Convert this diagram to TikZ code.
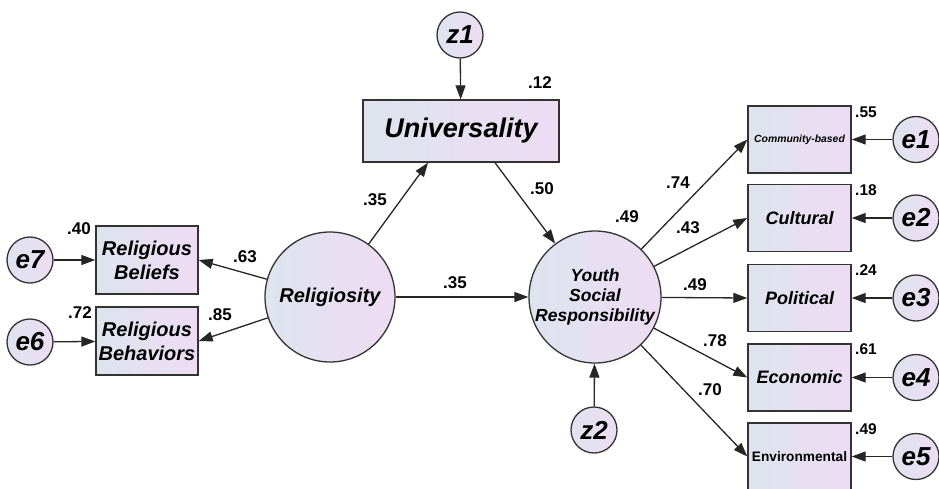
\documentclass[tikz,border=0pt]{standalone}
\usepackage{fontspec}
\setmainfont{Liberation Sans}
\usetikzlibrary{arrows.meta,shapes.geometric}
\definecolor{fillL}{HTML}{DEE4EE}
\definecolor{fillR}{HTML}{EEDCF4}
\definecolor{edgeC}{HTML}{333333}
\begin{document}
\begin{tikzpicture}[x=1pt,y=-1pt,
  obsbox/.style={draw=edgeC, line width=1.4pt, left color=fillL, right color=fillR,
    minimum width=103pt, minimum height=67pt, inner sep=0pt, align=center,
    font=\fontsize{18}{22}\selectfont\bfseries\itshape},
  latent/.style={circle, draw=edgeC, line width=1.3pt, left color=fillL, right color=fillR,
    inner sep=0pt, align=center},
  errc/.style={circle, draw=edgeC, line width=1.3pt, left color=fillL, right color=fillR,
    minimum size=46pt, inner sep=0pt, font=\fontsize{26}{30}\selectfont\bfseries\itshape},
  lbl/.style={font=\fontsize{17}{19}\selectfont\bfseries, inner sep=0pt},
  rlbl/.style={font=\fontsize{15.5}{17}\selectfont\bfseries, inner sep=0pt},
  arr/.style={-{Triangle[length=14pt,width=10pt]}, line width=1.3pt, draw=black!85}]

\useasboundingbox (0,0) rectangle (939,488);

% latent variables
\node[latent, minimum size=130pt, font=\fontsize{20}{24}\selectfont\bfseries\itshape] (rel) at (330,297) {Religiosity};
\node[latent, minimum size=132pt, font=\fontsize{17.5}{20}\selectfont\bfseries\itshape] (ysr) at (595,297) {Youth\\Social\\Responsibility};

% mediator
\node[draw=edgeC, line width=1.4pt, left color=fillL, right color=fillR,
  minimum width=196pt, minimum height=62pt, inner sep=0pt,
  font=\fontsize{27}{30}\selectfont\bfseries\itshape] (univ) at (461,131) {Universality};

% disturbances
\node[errc] (z1) at (460,35) {z1};
\node[errc] (z2) at (594,430) {z2};

% left indicators
\node[obsbox, minimum width=102pt, minimum height=68pt, font=\fontsize{20}{24}\selectfont\bfseries\itshape] (rb) at (147,260) {Religious\\Beliefs};
\node[obsbox, minimum width=102pt, minimum height=68pt, font=\fontsize{20}{24}\selectfont\bfseries\itshape] (rbh) at (147,341) {Religious\\Behaviors};
\node[errc] (e7) at (30,260) {e7};
\node[errc] (e6) at (30,342) {e6};

% right indicators
\node[obsbox, font=\fontsize{10.4}{12}\selectfont\bfseries\itshape] (b1) at (799.5,139.5) {Community-based};
\node[obsbox] (b2) at (799.5,218) {Cultural};
\node[obsbox] (b3) at (799.5,298) {Political};
\node[obsbox] (b4) at (799.5,377.5) {Economic};
\node[obsbox, font=\fontsize{13.7}{16}\selectfont\bfseries] (b5) at (799.5,456.5) {Environmental};
\node[errc] (e1) at (916,139.5) {e1};
\node[errc] (e2) at (916,218) {e2};
\node[errc] (e3) at (916,298) {e3};
\node[errc] (e4) at (916,377.5) {e4};
\node[errc] (e5) at (916,456.5) {e5};

% arrows
\draw[arr] (z1) -- (univ);
\draw[arr] (z2) -- (ysr);
\draw[arr] (rel) -- ([xshift=-33pt]univ.south);
\draw[arr] ([xshift=34pt]univ.south) -- (ysr);
\draw[arr] (rel) -- (ysr);
\draw[arr] (rel) -- (rb.east);
\draw[arr] (rel) -- (rbh.east);
\draw[arr] (e7) -- (rb);
\draw[arr] (e6) -- (rbh);
\foreach \b in {b1,b2,b3,b4,b5} {\draw[arr] (ysr) -- (\b.west);}
\draw[arr] (e1) -- (b1);
\draw[arr] (e2) -- (b2);
\draw[arr] (e3) -- (b3);
\draw[arr] (e4) -- (b4);
\draw[arr] (e5) -- (b5);

% labels
\node[lbl] (l12) at (540,83) {.12};
\node[lbl] (l35a) at (375,200) {.35};
\node[lbl] (l50) at (542,189) {.50};
\node[lbl] (l49a) at (627,217) {.49};
\node[lbl] (l35b) at (455,283) {.35};
\node[lbl] (l63) at (245,257) {.63};
\node[lbl] (l85) at (220,315) {.85};
\node[lbl] (l40) at (79,229) {.40};
\node[lbl] (l72) at (80,313) {.72};
\node[lbl] (l74) at (678,183) {.74};
\node[lbl] (l43) at (688,228) {.43};
\node[lbl] (l49b) at (695,285) {.49};
\node[lbl] (l78) at (715,341) {.78};
\node[lbl] (l70) at (710,390) {.70};
\node[rlbl] (r1) at (866,112) {.55};
\node[rlbl] (r2) at (866,190) {.18};
\node[rlbl] (r3) at (866,270) {.24};
\node[rlbl] (r4) at (866,349) {.61};
\node[rlbl] (r5) at (866,429) {.49};
\end{tikzpicture}
\end{document}
